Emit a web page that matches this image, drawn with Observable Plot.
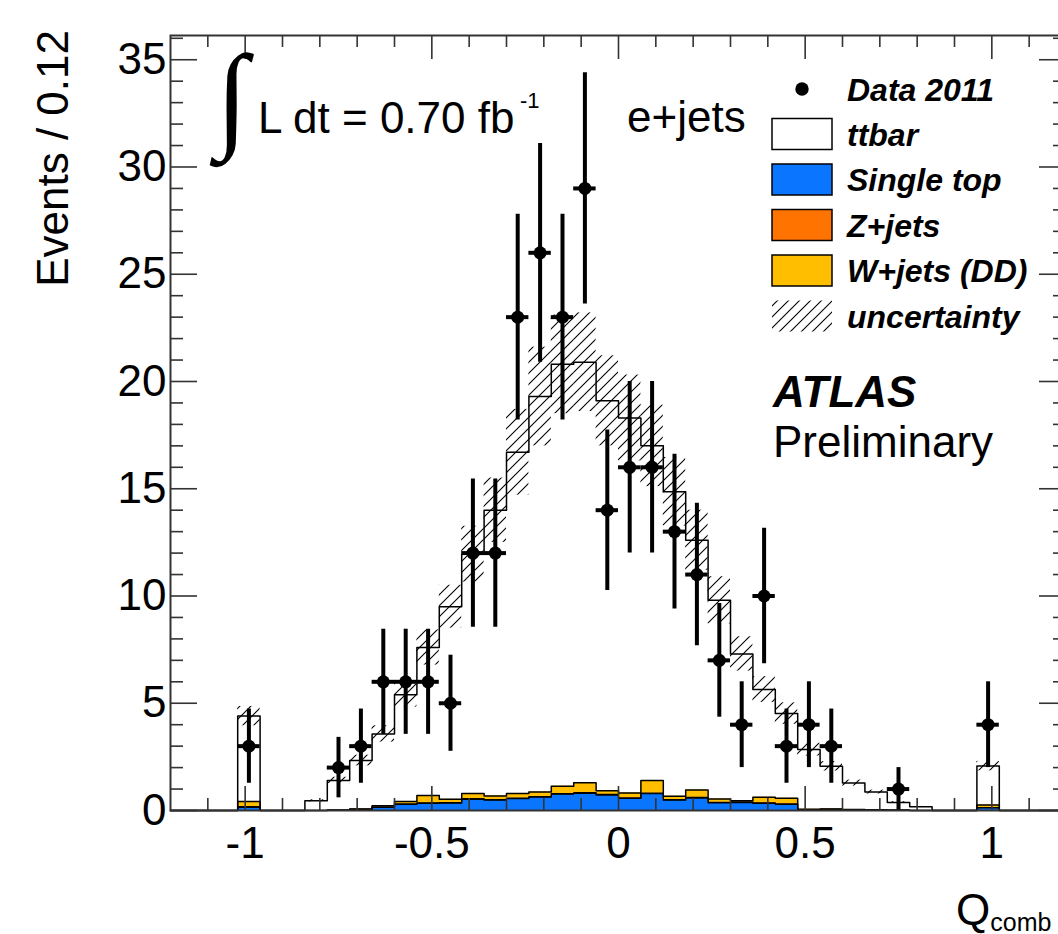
<!DOCTYPE html>
<html><head><meta charset="utf-8">
<script src="https://cdn.jsdelivr.net/npm/d3@7"></script>
<script src="https://cdn.jsdelivr.net/npm/@observablehq/plot@0.6"></script>
<style>html,body{margin:0;padding:0;background:#fff;overflow:hidden;}</style>
</head><body><div id="chart"></div>
<script>
// ---- data (40 bins of width 0.06 from -1.2 to 1.2) ----
const binEdges = [-1.20,-1.14,-1.08,-1.02,-0.96,-0.90,-0.84,-0.78,-0.72,-0.66,-0.60,-0.54,-0.48,-0.42,-0.36,-0.30,-0.24,-0.18,-0.12,-0.06,0.00,0.06,0.12,0.18,0.24,0.30,0.36,0.42,0.48,0.54,0.60,0.66,0.72,0.78,0.84,0.90,0.96,1.02,1.08,1.14,1.20];
const dataCounts = [0,0,0,3,0,0,0,2,3,6, 6,6,5,12,12,23,26,23,29,14, 16,16,13,11,7,4,10,3,4,3, 0,0,1,0,0,0,4,0,0,0];
const dataErrors = [0,0,0,1.73,0,0,0,1.41,1.73,2.45, 2.45,2.45,2.24,3.46,3.46,4.80,5.10,4.80,5.39,3.74, 4.00,4.00,3.61,3.32,2.65,2.00,3.16,1.73,2.00,1.73, 0,0,1.00,0,0,0,2.00,0,0,0];
const ttbar = [0,0,0,3.98,0,0,0.45,1.38,2.26,3.35, 4.98,6.90,8.98,11.16,13.32,15.91,18.44,19.67,19.61,18.18, 17.48,15.60,14.20,11.65,9.26,6.85,5.02,3.95,2.78,1.99, 1.23,0.83,0.35,0.17,0,0,1.81,0,0,0];
const singleTop = [0,0,0,0.15,0,0,0,0.01,0.05,0.14, 0.28,0.33,0.34,0.52,0.48,0.55,0.62,0.76,0.80,0.72, 0.56,0.78,0.48,0.58,0.35,0.37,0.33,0.28,0.04,0.05, 0.03,0.02,0.01,0,0,0,0.12,0,0,0];
const zJets = [0,0,0,0.03,0,0,0,0,0,0.03, 0.03,0.03,0.03,0.03,0.03,0.03,0.03,0.03,0.03,0.03, 0.03,0.03,0.03,0.03,0.03,0.03,0.03,0.03,0,0, 0,0,0,0,0,0,0.02,0,0,0];
const wJets = [0,0,0,0.24,0,0,0,0.01,0.02,0.05, 0.11,0.34,0.15,0.24,0.17,0.21,0.21,0.34,0.46,0.17, 0.23,0.59,0.15,0.34,0.16,0.05,0.26,0.26,0.02,0.02, 0.02,0.01,0.01,0,0,0,0.12,0,0,0];
const uncertainty = [0,0,0,0.45,0,0,0.05,0.15,0.25,0.38, 0.58,0.82,1.0,1.3,1.5,2.0,2.3,2.3,2.3,2.1, 2.0,1.9,1.6,1.4,1.1,0.8,0.6,0.5,0.3,0.22, 0.14,0.09,0.04,0.02,0,0,0.22,0,0,0];

const xMajorTicks = [-1,-0.5,0,0.5,1];
const xMinorTicks = [-1.1,-0.9,-0.8,-0.7,-0.6,-0.4,-0.3,-0.2,-0.1,0.1,0.2,0.3,0.4,0.6,0.7,0.8,0.9,1.1];
const yMajorTicks = [0,5,10,15,20,25,30,35];
const yMinorTicks = [1,2,3,4,6,7,8,9,11,12,13,14,16,17,18,19,21,22,23,24,26,27,28,29,31,32,33,34,36];
const legendLabels = ["Data 2011","ttbar","Single top","Z+jets","W+jets (DD)","uncertainty"];

const COLORS = {st:"#0a76ff", z:"#ff7300", w:"#ffbf00"};
const FONT = "'Liberation Sans', Arial, Helvetica, sans-serif";

// ---- derived table ----
const bins = binEdges.slice(0,-1).map((lo,i)=>{
  const hi = binEdges[i+1];
  const c1 = singleTop[i], c2 = c1 + zJets[i], c3 = c2 + wJets[i], c4 = c3 + ttbar[i];
  return {i, lo, hi, mid:(lo+hi)/2, st:c1, z:c2, w:c3, tot:c4, n:dataCounts[i], err:dataErrors[i], unc:uncertainty[i]};
});
function stepPoints(key){
  const pts=[{x:binEdges[0], y:0}];
  bins.forEach(b=>{pts.push({x:b.lo,y:b[key]},{x:b.hi,y:b[key]});});
  pts.push({x:binEdges[binEdges.length-1], y:0});
  return pts;
}
function bandPoints(lowKey, highKey){
  return bins.flatMap(b=>{
    const y1 = lowKey ? b[lowKey] : 0, y2 = b[highKey];
    return [{x:b.lo,y1,y2},{x:b.hi,y1,y2}];
  });
}
const dataPts = bins.filter(b=>b.n>0);
const bandBins = bins.filter(b=>b.tot>0 && b.unc>0);

const W = 1100, H = 934, mL = 170, mR = 34, mT = 35, mB = 124;
const innerW = W-mL-mR, innerH = H-mT-mB;

const hatchDefs = () => {
  const defs = d3.create("svg:defs");
  const p = defs.append("pattern").attr("id","hatch").attr("patternUnits","userSpaceOnUse")
    .attr("width",11).attr("height",11);
  p.append("path").attr("d","M-2,2 L2,-2 M0,11 L11,0 M9,13 L13,9")
    .attr("stroke","#000").attr("stroke-width",1.1).attr("fill","none");
  return defs.node();
};

const chart = Plot.plot({
  width: W, height: H,
  marginLeft: mL, marginRight: mR, marginTop: mT, marginBottom: mB,
  style: {fontFamily: FONT, maxWidth: "none", overflow: "visible", background: "#fff"},
  x: {domain: [-1.2, 1.2], axis: null},
  y: {domain: [0, 36.13], axis: null},
  marks: [
    hatchDefs,
    Plot.areaY(bandPoints(null,"st"), {x:"x", y1:"y1", y2:"y2", fill: COLORS.st}),
    Plot.areaY(bandPoints("st","z"), {x:"x", y1:"y1", y2:"y2", fill: COLORS.z}),
    Plot.areaY(bandPoints("z","w"), {x:"x", y1:"y1", y2:"y2", fill: COLORS.w}),
    Plot.line(stepPoints("tot"), {x:"x", y:"y", stroke:"#000", strokeWidth:1.5}),
    Plot.line(stepPoints("w"), {x:"x", y:"y", stroke:"#000", strokeWidth:1.5}),
    Plot.line(stepPoints("z"), {x:"x", y:"y", stroke:"#000", strokeWidth:1.2}),
    Plot.line(stepPoints("st"), {x:"x", y:"y", stroke:"#000", strokeWidth:1.2}),
    Plot.rect(bandBins, {x1:"lo", x2:"hi", y1:d=>d.tot-d.unc, y2:d=>d.tot+d.unc, fill:"url(#hatch)"}),
    Plot.ruleX(dataPts, {x:"mid", y1:d=>d.n-d.err, y2:d=>d.n+d.err, stroke:"#000", strokeWidth:4}),
    Plot.ruleY(dataPts, {y:"n", x1:"lo", x2:"hi", stroke:"#000", strokeWidth:4}),
    Plot.dot(dataPts, {x:"mid", y:"n", r:6.5, fill:"#000"}),
    // inward ticks
    Plot.ruleX(xMajorTicks, {x:d=>d, insetTop: innerH-24, stroke:"#333", strokeWidth:1.6}),
    Plot.ruleX(xMajorTicks, {x:d=>d, insetBottom: innerH-24, stroke:"#333", strokeWidth:1.6}),
    Plot.ruleX(xMinorTicks, {x:d=>d, insetTop: innerH-12, stroke:"#333", strokeWidth:1.6}),
    Plot.ruleX(xMinorTicks, {x:d=>d, insetBottom: innerH-12, stroke:"#333", strokeWidth:1.6}),
    Plot.ruleY(yMajorTicks, {y:d=>d, insetRight: innerW-27, stroke:"#333", strokeWidth:1.6}),
    Plot.ruleY(yMajorTicks, {y:d=>d, insetLeft: innerW-27, stroke:"#333", strokeWidth:1.6}),
    Plot.ruleY(yMinorTicks, {y:d=>d, insetRight: innerW-13, stroke:"#333", strokeWidth:1.6}),
    Plot.ruleY(yMinorTicks, {y:d=>d, insetLeft: innerW-13, stroke:"#333", strokeWidth:1.6}),
    Plot.frame({stroke:"#333", strokeWidth:2}),
    Plot.axisX({ticks: xMajorTicks, tickSize:0, tickPadding:16, fontSize:44, tickFormat:d=>String(d), label:null}),
    Plot.axisY({ticks: yMajorTicks, tickSize:0, tickPadding:4, fontSize:44, tickFormat:d=>String(d), label:null})
  ]
});
document.getElementById("chart").appendChild(chart);

// ---- annotations & legend ----
const svg = d3.select(chart);
const g = svg.append("g").attr("font-family", FONT).attr("fill", "#000").attr("text-anchor", "start");
function txt(x, y, s, o = {}) {
  return g.append("text").attr("x", x).attr("y", y).attr("font-size", o.size || 44)
    .attr("font-weight", o.weight || "normal").attr("font-style", o.style || "normal")
    .attr("font-family", o.family || FONT).attr("text-anchor", o.anchor || "start").text(s);
}
// axis titles
g.append("text").attr("transform","translate(68,30) rotate(-90)").attr("text-anchor","end")
  .attr("font-size",44).text("Events / 0.12");
const xt = g.append("text").attr("x",956).attr("y",925).attr("font-size",44).attr("text-anchor","start");
xt.append("tspan").text("Q");
xt.append("tspan").attr("font-size",25).attr("dy",6).text("comb");

// luminosity label
txt(216, 136, "\u222B", {size:117, family:"'Liberation Serif', 'DejaVu Serif', serif"});
txt(258, 133, "L dt = 0.70 fb");
txt(520, 108, "-1", {size:22});
txt(627, 132, "e+jets");
txt(773, 407, "ATLAS", {weight:"bold", style:"italic"});
txt(773, 457, "Preliminary");

// legend
const rowY = [89, 134, 179.5, 225, 270.5, 316];
const boxFill = [null, "#fff", COLORS.st, COLORS.z, COLORS.w, "url(#hatch)"];
legendLabels.forEach((lab, i) => {
  const cy = rowY[i];
  if (i === 0) {
    g.append("circle").attr("cx", 802).attr("cy", cy).attr("r", 6.7).attr("fill", "#000");
  } else {
    g.append("rect").attr("x", 772).attr("y", cy - 15.5).attr("width", 60).attr("height", 31)
      .attr("fill", boxFill[i]).attr("stroke", i === 5 ? "none" : "#000").attr("stroke-width", 1.5);
  }
  txt(847, cy + 11.5, lab, {size:32, weight:"bold", style:"italic"});
});
</script></body></html>
